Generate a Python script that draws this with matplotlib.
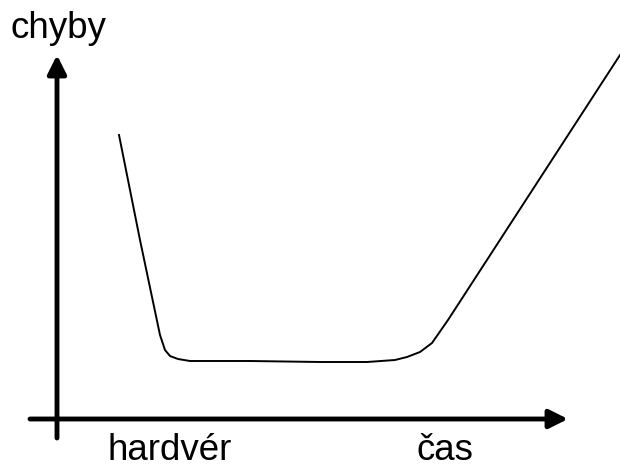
import matplotlib
matplotlib.use("Agg")
import matplotlib.pyplot as plt

# curve (pixel-like coordinates; y grows downward)
curve_x = [119, 140, 160, 165, 170, 178, 190, 250, 320, 367, 395, 407, 420, 432, 448, 620]
curve_y = [135, 240, 335, 350, 356, 359, 361, 361, 362, 362, 360, 357, 352, 343, 320, 55]

x_labels = ["hardvér", "čas"]
x_label_pos = [107, 416]
y_label = "chyby"

fig = plt.figure(figsize=(6.2, 4.67), dpi=100)
ax = fig.add_axes([0, 0, 1, 1])
ax.set_xlim(0, 620)
ax.set_ylim(467, 0)
ax.axis("off")

# axes with arrows
ax.annotate("", xy=(568, 419), xytext=(30, 419),
            arrowprops=dict(arrowstyle="-|>", lw=3.5, color="black",
                            mutation_scale=28, shrinkA=0, shrinkB=0))
ax.annotate("", xy=(57, 55), xytext=(57, 438),
            arrowprops=dict(arrowstyle="-|>", lw=3.5, color="black",
                            mutation_scale=28, shrinkA=0, shrinkB=0))

ax.plot(curve_x, curve_y, color="black", lw=1.4, solid_joinstyle="round")

font = ["Liberation Sans", "DejaVu Sans"]
ax.text(10, 38, y_label, fontsize=26.5, family=font, ha="left", va="baseline")
for lab, xp in zip(x_labels, x_label_pos):
    ax.text(xp, 460, lab, fontsize=26.5, family=font, ha="left", va="baseline")

fig.savefig("out.png", dpi=100)
